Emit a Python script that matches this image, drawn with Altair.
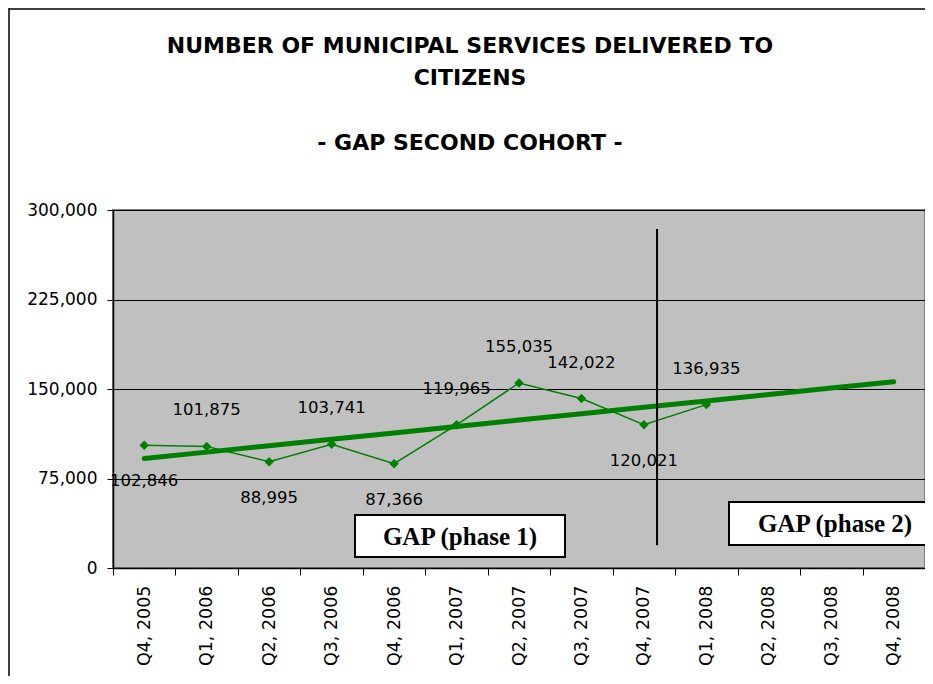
import altair as alt
import pandas as pd
import numpy as np

quarters = ["Q4, 2005", "Q1, 2006", "Q2, 2006", "Q3, 2006", "Q4, 2006", "Q1, 2007",
            "Q2, 2007", "Q3, 2007", "Q4, 2007", "Q1, 2008", "Q2, 2008", "Q3, 2008", "Q4, 2008"]
services = [102846, 101875, 88995, 103741, 87366, 119965, 155035, 142022, 120021, 136935]
label_side = ["below", "above", "below", "above", "below", "above", "above", "above", "below", "above"]
y_ticks = [0, 75000, 150000, 225000, 300000]
phase_split = ["Q4, 2007"]
phase_rule_values = [284000, 19000]
box_labels = ["GAP (phase 1)", "GAP (phase 2)"]
title_lines = ["NUMBER OF MUNICIPAL SERVICES DELIVERED TO", "CITIZENS"]
subtitle_line = "- GAP  SECOND  COHORT -"

df = pd.DataFrame({"quarter": quarters[:len(services)], "services": services, "side": label_side})

# linear trendline (least squares over the observed quarters, extended to the last quarter)
idx = np.arange(len(services))
slope, intercept = np.polyfit(idx, services, 1)
trend = pd.DataFrame({"quarter": quarters, "trend": intercept + slope * np.arange(len(quarters))})

rule_df = pd.DataFrame({"quarter": phase_split, "y1": [phase_rule_values[0]], "y2": [phase_rule_values[1]]})

GREEN = "#008000"
FONT = "DejaVu Sans"

xscale = alt.Scale(type="band", domain=quarters, paddingInner=0, paddingOuter=0)
yscale = alt.Scale(domain=[0, 300000], nice=False)

x_enc = alt.X("quarter:N", sort=quarters, scale=xscale,
              axis=alt.Axis(title=None, labelAngle=-90, tickBand="extent", labelFontSize=17.5,
                            labelFont=FONT, labelColor="black", domainColor="black",
                            tickColor="black", tickSize=7, labelPadding=10, grid=False,
                            domainWidth=1.5))
y_axis = alt.Axis(title=None, values=y_ticks, format=",.0f", grid=True, gridColor="black",
                  gridWidth=1, labelFontSize=17, labelFont=FONT, labelColor="black",
                  domainColor="black", tickColor="black", tickSize=6, labelPadding=10,
                  domainWidth=1.5)

base = alt.Chart(df)

trend_line = alt.Chart(trend).mark_line(color=GREEN, strokeWidth=5, strokeCap="round").encode(
    x=x_enc, y=alt.Y("trend:Q", scale=yscale, axis=y_axis)
)
data_line = base.mark_line(color=GREEN, strokeWidth=1.5).encode(
    x=x_enc, y=alt.Y("services:Q", scale=yscale, axis=y_axis)
)
points = base.mark_point(shape="diamond", filled=True, size=90, color=GREEN, opacity=1).encode(
    x=x_enc, y=alt.Y("services:Q", scale=yscale, axis=y_axis)
)
labels_above = base.transform_filter(alt.datum.side == "above").mark_text(
    dy=-36, fontSize=16.5, font=FONT, color="black").encode(
    x=x_enc, y=alt.Y("services:Q", scale=yscale, axis=y_axis), text=alt.Text("services:Q", format=",")
)
labels_below = base.transform_filter(alt.datum.side == "below").mark_text(
    dy=36, fontSize=16.5, font=FONT, color="black").encode(
    x=x_enc, y=alt.Y("services:Q", scale=yscale, axis=y_axis), text=alt.Text("services:Q", format=",")
)

phase_rule = alt.Chart(rule_df).mark_rule(color="black", strokeWidth=2).encode(
    x=alt.X("quarter:N", sort=quarters, scale=xscale, bandPosition=0.71),
    y=alt.Y("y1:Q", scale=yscale, axis=y_axis), y2="y2:Q"
)

box1 = alt.Chart(pd.DataFrame({"t": [box_labels[0]]})).mark_rect(
    fill="white", stroke="black", strokeWidth=2, clip=False).encode(
    x=alt.value(242), x2=alt.value(452), y=alt.value(305), y2=alt.value(347))
box1_text = alt.Chart(pd.DataFrame({"t": [box_labels[0]]})).mark_text(
    font="Liberation Serif", fontWeight="bold", fontSize=25, color="black").encode(
    x=alt.value(347), y=alt.value(327), text="t:N")
box2 = alt.Chart(pd.DataFrame({"t": [box_labels[1]]})).mark_rect(
    fill="white", stroke="black", strokeWidth=2, clip=False).encode(
    x=alt.value(616), x2=alt.value(830), y=alt.value(292), y2=alt.value(335))
box2_text = alt.Chart(pd.DataFrame({"t": [box_labels[1]]})).mark_text(
    font="Liberation Serif", fontWeight="bold", fontSize=25, color="black").encode(
    x=alt.value(722), y=alt.value(314), text="t:N")

title_df = pd.DataFrame({"t": title_lines + [subtitle_line], "row": [0, 1, 2]})
title_y = {0: -164, 1: -132, 2: -67}
title_layers = [
    alt.Chart(title_df).transform_filter(alt.datum.row == r).mark_text(
        font=FONT, fontWeight="bold", fontSize=22, color="black", clip=False).encode(
        x=alt.value(357), y=alt.value(yy), text="t:N")
    for r, yy in title_y.items()
]

frame_left = alt.Chart(pd.DataFrame({"t": [0]})).mark_rule(color="black", strokeWidth=1.5).encode(
    x=alt.value(-104), y=alt.value(-202), y2=alt.value(470))
frame_top = alt.Chart(pd.DataFrame({"t": [0]})).mark_rule(color="black", strokeWidth=1.5).encode(
    x=alt.value(-104), x2=alt.value(830), y=alt.value(-201))

chart = alt.layer(
    trend_line, data_line, points, labels_above, labels_below, phase_rule,
    box1, box1_text, box2, box2_text, frame_left, frame_top, *title_layers
).properties(
    width=812, height=358,
    autosize=alt.AutoSizeParams(type="none"),
    padding={"left": 105, "top": 202, "right": 0, "bottom": 108},
    background="white",
).configure_view(fill="#C0C0C0", stroke="#808080", strokeWidth=2)

chart.save("out.html", embed_options={"renderer": "svg", "actions": False})
